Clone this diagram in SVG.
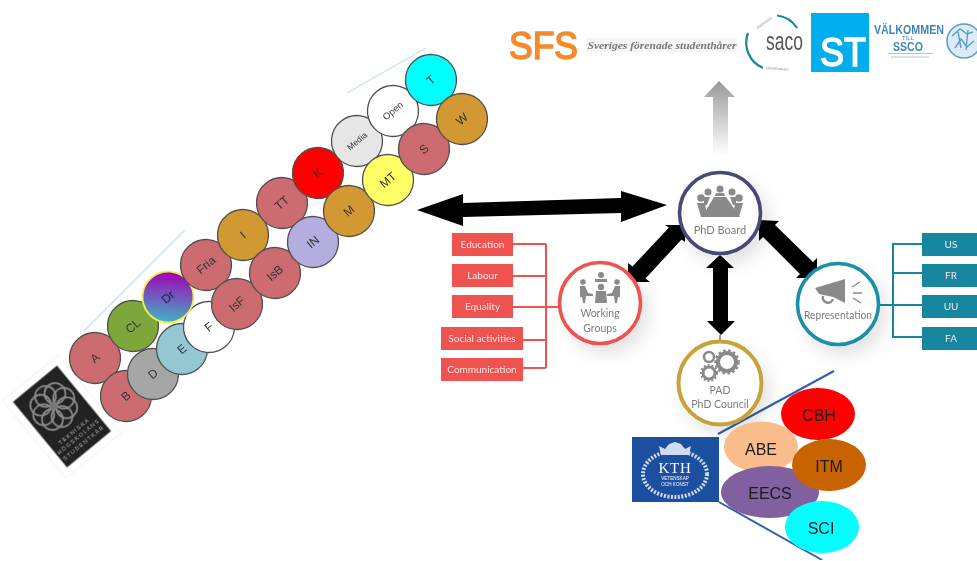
<svg xmlns="http://www.w3.org/2000/svg" width="977" height="561" viewBox="0 0 977 561">
<style>
text{font-family:"Lato","Liberation Sans",sans-serif;text-anchor:middle}
.m circle{stroke:#4f4f4f;stroke-width:1.3}
.m text{font-family:"Liberation Sans",sans-serif;font-size:12px;fill:#333}
.rose{fill:#cd6c6f}.gold{fill:#d29833}
.ring{fill:#fff;stroke-width:3.6;filter:url(#sh)}
.lab{font-size:10.5px;fill:#7c7c7c}
.ic{fill:#8a8a8a}
.rb{fill:#ef5350}.bb{fill:#12879f}
.bt{font-size:10px;fill:#fbe4e4}
.rl{fill:none;stroke:#ef5350;stroke-width:2}
.bl{fill:none;stroke:#12879f;stroke-width:2}
.e text{font-family:"Liberation Sans",sans-serif;font-size:16px;fill:#1a1a1a}
.k{font-family:"Liberation Sans",sans-serif;fill:#fff}
</style>
<defs>
<filter id="soft" x="0" y="0" width="100%" height="100%"><feGaussianBlur stdDeviation="0.6"/></filter>
<filter id="sh" x="-40%" y="-40%" width="190%" height="190%"><feDropShadow dx="7" dy="9" stdDeviation="8" flood-color="#000" flood-opacity="0.11"/></filter>
<linearGradient id="dr" x1="0.15" y1="0.85" x2="0.85" y2="0.15"><stop offset="0" stop-color="#3fb3c4"/><stop offset="1" stop-color="#a400b4"/></linearGradient>
<linearGradient id="up" x1="0" y1="0" x2="0" y2="1"><stop offset="0" stop-color="#999"/><stop offset="0.85" stop-color="#f2f2f2"/><stop offset="1" stop-color="#fff"/></linearGradient>
<circle id="petal" r="10.5" cx="0" cy="-13" fill="none" stroke="#8c8c8c" stroke-width="1.7"/>
</defs>
<rect width="977" height="561" fill="#fff"/>
<g filter="url(#soft)">

<g id="guides" stroke="#bfe6e6" stroke-width="1.2" fill="none">
<path d="M83 332L185 230"/><path d="M347 93L426 48"/>
</g>

<g id="ths-logo" transform="translate(62,416.5) rotate(-39.5)">
<rect x="-36" y="-50" width="72" height="100" fill="#fff" stroke="#f2f2f2"/>
<rect x="-28.5" y="-42.5" width="57" height="85" fill="#222"/>
<g transform="translate(0,-13)">
<use href="#petal"/><use href="#petal" transform="rotate(45)"/><use href="#petal" transform="rotate(90)"/><use href="#petal" transform="rotate(135)"/><use href="#petal" transform="rotate(180)"/><use href="#petal" transform="rotate(225)"/><use href="#petal" transform="rotate(270)"/><use href="#petal" transform="rotate(315)"/>
<circle r="3.500" fill="#777"/>
</g>
<g font-size="5.6" fill="#b0b0b0" letter-spacing="1.400">
<text y="20.500" style="font-family:'Liberation Sans',sans-serif">TEKNISKA</text>
<text y="28" style="font-family:'Liberation Sans',sans-serif">HÖGSKOLANS</text>
<text y="35.500" style="font-family:'Liberation Sans',sans-serif">STUDENTKÅR</text>
</g>
</g>

<g id="chapters" class="m">
<g id="A" transform="translate(95,358) rotate(-40)"><circle r="25.5" class="rose"/><text y="4">A</text></g>
<g id="B" transform="translate(126,396) rotate(-40)"><circle r="25.5" class="rose"/><text y="4">B</text></g>
<g id="CL" transform="translate(133,326) rotate(-40)"><circle r="25.5" fill="#7ea73a"/><text y="4">CL</text></g>
<g id="D" transform="translate(153,374) rotate(-40)"><circle r="25.5" fill="#a6a6a6"/><text y="4">D</text></g>
<g id="E" transform="translate(182,349) rotate(-40)"><circle r="25.5" fill="#93c7d1"/><text y="4">E</text></g>
<g id="F" transform="translate(209,327) rotate(-40)"><circle r="25.5" fill="#fff"/><text y="4">F</text></g>
<g id="Dr" transform="translate(168,297) rotate(-40)"><circle r="25.5" fill="url(#dr)" style="stroke:#f2ee4a;stroke-width:1.8"/><text y="4" style="fill:#1c1c50">Dr</text></g>
<g id="Fria" transform="translate(206,265) rotate(-40)"><circle r="25.5" class="rose"/><text y="4">Fria</text></g>
<g id="IsF" transform="translate(237,304) rotate(-40)"><circle r="25.5" class="rose"/><text y="4">IsF</text></g>
<g id="I" transform="translate(243,235) rotate(-40)"><circle r="25.5" class="gold"/><text y="4">I</text></g>
<g id="IsB" transform="translate(275,273) rotate(-40)"><circle r="25.5" class="rose"/><text y="4">IsB</text></g>
<g id="TT" transform="translate(282,203) rotate(-40)"><circle r="25.5" class="rose"/><text y="4">TT</text></g>
<g id="IN" transform="translate(313,242) rotate(-40)"><circle r="25.5" fill="#b4aee0"/><text y="4">IN</text></g>
<g id="K" transform="translate(318,173) rotate(-40)"><circle r="25.5" fill="#f00"/><text y="4">K</text></g>
<g id="M" transform="translate(349,211) rotate(-40)"><circle r="25.5" class="gold"/><text y="4">M</text></g>
<g id="Media" transform="translate(357,141) rotate(-40)"><circle r="25.5" fill="#e6e6e6"/><text y="3" style="font-size:8.5px">Media</text></g>
<g id="MT" transform="translate(388,180) rotate(-40)"><circle r="25.5" fill="#ff6"/><text y="4">MT</text></g>
<g id="Open" transform="translate(393,111) rotate(-40)"><circle r="25.5" fill="#fff"/><text y="3" style="font-size:9.5px">Open</text></g>
<g id="S" transform="translate(424,149) rotate(-40)"><circle r="25.5" class="rose"/><text y="4">S</text></g>
<g id="T" transform="translate(431,80) rotate(-40)"><circle r="25.5" fill="#0ff"/><text y="4">T</text></g>
<g id="W" transform="translate(462,119) rotate(-40)"><circle r="25.5" class="gold"/><text y="4">W</text></g>
</g>

<g id="logos">
<g id="sfs">
<text x="543.500" y="59" font-size="39" fill="#f58a2c" stroke="#f58a2c" stroke-width="1.600" style="font-family:'Liberation Sans',sans-serif" textLength="69" lengthAdjust="spacingAndGlyphs">SFS</text>
<rect x="586" y="38" width="151" height="14" fill="#f5f5f5"/>
<text x="662" y="49" font-size="10.5" font-weight="bold" font-style="italic" fill="#777" style="font-family:'Liberation Serif',serif" textLength="149" lengthAdjust="spacingAndGlyphs">Sveriges förenade studenthårer</text>
</g>
<g id="saco">
<path d="M777 15.500A27.500 27.500 0 0 1 797 28" fill="none" stroke="#12879f" stroke-width="2.2"/>
<path d="M748 33A27.500 27.500 0 0 0 763 68" fill="none" stroke="#12879f" stroke-width="2.2"/>
<text x="784.500" y="50" font-size="25" fill="#555" style="font-family:'Liberation Sans',sans-serif" textLength="37" lengthAdjust="spacingAndGlyphs">saco</text>
<text x="765" y="24" font-size="3.500" fill="#888" transform="rotate(-35 765 24)" style="font-family:'Liberation Sans',sans-serif">SVERIGES</text>
<text x="777" y="70" font-size="3.500" fill="#888" transform="rotate(5 777 70)" style="font-family:'Liberation Sans',sans-serif">AKADEMIKER</text>
</g>
<g id="st">
<rect x="811" y="13" width="58" height="59" fill="#00aeef"/>
<text x="843" y="66" font-size="41" class="k" stroke="#fff" stroke-width="1.500" textLength="46" lengthAdjust="spacingAndGlyphs">ST</text>
</g>
<g id="ssco" fill="#3f86bd" style="font-weight:bold">
<text x="909" y="33.500" font-size="12.500" textLength="70" lengthAdjust="spacingAndGlyphs" style="font-family:'Liberation Sans',sans-serif">VÄLKOMMEN</text>
<text x="908" y="40" font-size="6" style="font-family:'Liberation Sans',sans-serif;font-weight:normal">TILL</text>
<text x="908" y="51" font-size="12.500" textLength="30" lengthAdjust="spacingAndGlyphs" style="font-family:'Liberation Sans',sans-serif">SSCO</text>
<path d="M888 53.500H933M891 57H929" stroke="#a9c8e0" stroke-width="1" fill="none"/>
</g>
<g id="seal" fill="none" stroke="#5b9ecb">
<circle cx="964" cy="41" r="17" stroke-width="1.600" fill="#dcebf5"/>
<path d="M952 36l8-7 7 5 6-2M955 48l6-9 6 8 7-6M958 32l3 16M968 30l-2 20" stroke-width="1.400"/>
</g>
</g>

<g id="connectors">
<polygon id="to-unions" points="719,81 735,97 728,97 728,156 713,156 713,97 704,97" fill="url(#up)"/>
<polygon id="board-chapters" points="417,210 463,194 463,203 621,198 621,191 667,205 621,222 621,213 463,217 463,226" fill="#000"/>
<polygon id="board-wg" points="685,225 665,225 669,227.500 632.500,266.500 628,263 628,282 650,282 645.500,278.500 681.500,239.500 685,242" fill="#000"/>
<polygon id="board-rep" points="759,220 779,221 775,225 813,262 817,258 817,278 796,278 800,274 763,237 759,241" fill="#000"/>
<polygon id="board-pad" points="720,255 734,268 728,268 728,321 735,321 721,335 707,321 713,321 713,268 706,268" fill="#000"/>
<path id="wg-lines" class="rl" d="M513 244H546M513 276H546M513 307H558M523 340H546M523 368H546M546 244V368"/>
<path id="rep-lines" class="bl" d="M922 244H893V337H922M893 273H922M880 305H922"/>
<path id="kth-top" d="M718 434L834 371" stroke="#2f5fb0" stroke-width="2" fill="none"/>
<path id="kth-bottom" d="M719 502L822 560" stroke="#2f5fb0" stroke-width="2" fill="none"/>
</g>

<g id="phd-board">
<circle cx="720" cy="213" r="40.500" class="ring" stroke="#4a4a78"/>
<g class="ic">
<circle cx="720" cy="189" r="3.500"/><circle cx="708" cy="192" r="3.500"/><circle cx="732" cy="192" r="3.500"/><circle cx="701" cy="198" r="3.800"/><circle cx="739" cy="198" r="3.800"/>
<path d="M714 197L726 197L740 217L702 217Z"/>
<path d="M697 203h8l2 14h-6ZM743 203h-8l-2 14h6ZM704 197h6l-3 8h-3ZM736 197h-6l3 8h3ZM716 193h8l1 3h-10Z"/>
</g>
<text x="720" y="234" class="lab" style="font-size:11px">PhD Board</text>
</g>

<g id="working-groups">
<circle cx="600" cy="303" r="40.500" class="ring" stroke="#ef5350"/>
<g class="ic">
<circle cx="601" cy="275" r="3"/><circle cx="583" cy="282" r="2.800"/><circle cx="617" cy="282" r="2.800"/><circle cx="601" cy="287" r="3.200"/>
<path d="M595 279h12v3h-12ZM580 286h5l3 7 5 1v2h-7l-1 7h-2l-1-6h-2ZM620 286h-5l-3 7-5 1v2h7l1 7h2l1-6h2ZM596 291h10l1 12h-12Z"/>
</g>
<text x="600" y="317" class="lab">Working</text>
<text x="600" y="332" class="lab">Groups</text>
<g id="wg-education"><rect x="452" y="233" width="61" height="23" class="rb"/><text x="482.500" y="248" class="bt">Education</text></g>
<g id="wg-labour"><rect x="452" y="264" width="61" height="23" class="rb"/><text x="482.500" y="279" class="bt">Labour</text></g>
<g id="wg-equality"><rect x="452" y="295" width="61" height="23" class="rb"/><text x="482.500" y="310" class="bt">Equality</text></g>
<g id="wg-social"><rect x="441" y="327" width="82" height="23" class="rb"/><text x="482" y="342" class="bt">Social activities</text></g>
<g id="wg-communication"><rect x="441" y="358" width="82" height="23" class="rb"/><text x="482" y="373" class="bt">Communication</text></g>
</g>

<g id="representation">
<circle cx="838" cy="304" r="40.500" class="ring" stroke="#1a8fa8"/>
<g class="ic">
<path d="M815 288L845 279V303L833 297L819 294Z"/>
<path d="M823 296a5 5 0 0 0 10 3" fill="none" stroke="#8a8a8a" stroke-width="2.500"/>
<path d="M852 287L860 282M853 293H862M853 298L861 303" fill="none" stroke="#8a8a8a" stroke-width="1.400"/>
</g>
<text x="838" y="319" class="lab" style="font-size:10.500px" textLength="68" lengthAdjust="spacingAndGlyphs">Representation</text>
<g id="rep-us"><rect x="922" y="233" width="55" height="23" class="bb"/><text x="951" y="248" class="bt">US</text></g>
<g id="rep-fr"><rect x="922" y="264" width="55" height="23" class="bb"/><text x="951" y="279" class="bt">FR</text></g>
<g id="rep-uu"><rect x="922" y="295" width="55" height="23" class="bb"/><text x="951" y="310" class="bt">UU</text></g>
<g id="rep-fa"><rect x="922" y="327" width="55" height="23" class="bb"/><text x="951" y="342" class="bt">FA</text></g>
</g>

<g id="pad">
<path d="M720 335V342" stroke="#6a7aa8" stroke-width="1.500"/>
<circle cx="720" cy="383" r="41.500" class="ring" stroke="#c9a13b" style="stroke-width:4"/>
<g fill="none" stroke="#8a8a8a">
<circle cx="727" cy="362" r="9" stroke-width="4"/><circle cx="727" cy="362" r="11.500" stroke-width="2.500" stroke-dasharray="2.500 2.500"/>
<circle cx="709" cy="357" r="5" stroke-width="2.500"/>
<circle cx="709" cy="373" r="6" stroke-width="3"/><circle cx="709" cy="373" r="8" stroke-width="2" stroke-dasharray="2 2"/>
</g>
<text x="720" y="394" class="lab" style="font-size:10.500px">PAD</text>
<text x="720" y="408" class="lab" style="font-size:10.500px">PhD Council</text>
</g>

<g id="kth">
<rect x="632" y="437" width="87" height="65" fill="#1c4fa0"/>
<ellipse cx="675" cy="474" rx="32" ry="23" fill="none" stroke="#cfdcf0" stroke-width="4" stroke-dasharray="2 1.500"/>
<path d="M661 455l-2-9 6 3 4-5 6-2 6 2 4 5 6-3-2 9Z" fill="#cfdcf0"/>
<text x="675" y="473" font-size="15" letter-spacing="0.800" fill="#fff" style="font-family:'Liberation Serif',serif">KTH</text>
<text x="675" y="480" font-size="4.600" class="k">VETENSKAP</text>
<text x="675" y="485.500" font-size="4.600" class="k">OCH KONST</text>
</g>

<g id="schools" class="e">
<g id="CBH"><ellipse cx="818" cy="414" rx="37" ry="26" fill="#f00"/><text x="819" y="421">CBH</text></g>
<g id="ABE"><ellipse cx="761" cy="447" rx="37" ry="25.500" fill="#f8bd8b"/><text x="761" y="455">ABE</text></g>
<g id="EECS"><ellipse cx="770" cy="492" rx="49" ry="26" fill="#80609f"/><text x="770" y="499">EECS</text></g>
<g id="ITM"><ellipse cx="829" cy="465" rx="37" ry="26" fill="#c76300"/><text x="829" y="472">ITM</text></g>
<g id="SCI"><ellipse cx="822" cy="527" rx="37" ry="26" fill="#0ff"/><text x="821" y="534">SCI</text></g>
</g>

</g>
</svg>
